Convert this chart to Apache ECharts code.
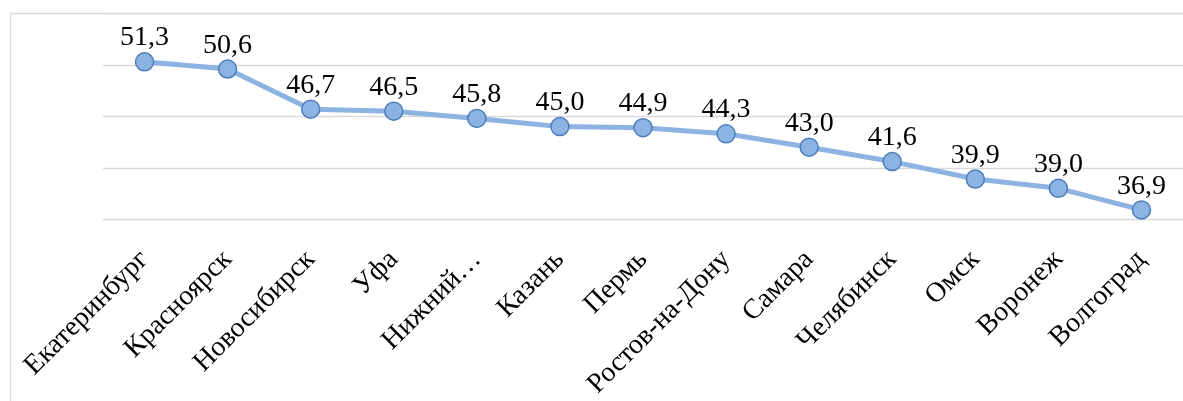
<!DOCTYPE html>
<html>
<head>
<meta charset="utf-8">
<script src="https://cdn.jsdelivr.net/npm/echarts@6/dist/echarts.min.js"></script>
<style>
  html, body { margin: 0; padding: 0; background: #ffffff; }
  #chart { width: 1183px; height: 401px; }
</style>
</head>
<body>
<div id="chart"></div>
<script>
// Cities along the category axis
var cities = ['Екатеринбург', 'Красноярск', 'Новосибирск', 'Уфа', 'Нижний…', 'Казань', 'Пермь',
  'Ростов-на-Дону', 'Самара', 'Челябинск', 'Омск', 'Воронеж', 'Волгоград'];
// Value per city
var values = [51.3, 50.6, 46.7, 46.5, 45.8, 45.0, 44.9, 44.3, 43.0, 41.6, 39.9, 39.0, 36.9];
// Value axis range and step
var yMin = 36, yMax = 56, yStep = 5;

var serif = '"Liberation Serif", "Times New Roman", serif';
var chart = echarts.init(document.getElementById('chart'), null, { renderer: 'canvas' });

chart.setOption({
  backgroundColor: '#ffffff',
  animation: false,
  graphic: [{
    type: 'rect',
    shape: { x: 10.5, y: 13.5, width: 1300, height: 500 },
    style: { fill: 'none', stroke: '#d9d9d9', lineWidth: 1.3 },
    z: -1
  }],
  grid: { left: 103, top: 13.5, width: 1094, height: 206, containLabel: false },
  xAxis: {
    type: 'category',
    data: cities,
    boundaryGap: true,
    axisLine: { show: false },
    axisTick: { show: false },
    axisLabel: {
      rotate: 45,
      interval: 0,
      margin: 36,
      fontFamily: serif,
      fontSize: 28,
      color: '#000000'
    }
  },
  yAxis: {
    type: 'value',
    min: yMin,
    max: yMax,
    interval: yStep,
    axisLabel: { show: false },
    axisLine: { show: false },
    axisTick: { show: false },
    splitLine: { lineStyle: { color: '#d9d9d9', width: 1.3 } }
  },
  series: [{
    type: 'line',
    data: values,
    symbol: 'circle',
    symbolSize: 18,
    lineStyle: { color: '#8db3e2', width: 5 },
    itemStyle: { color: '#8db3e2', borderColor: '#4a7ebb', borderWidth: 1.5 },
    label: {
      show: true,
      position: 'top',
      distance: 0,
      fontFamily: serif,
      fontSize: 28,
      color: '#000000',
      formatter: function (p) { return p.value.toFixed(1).replace('.', ','); }
    }
  }]
});
</script>
</body>
</html>
